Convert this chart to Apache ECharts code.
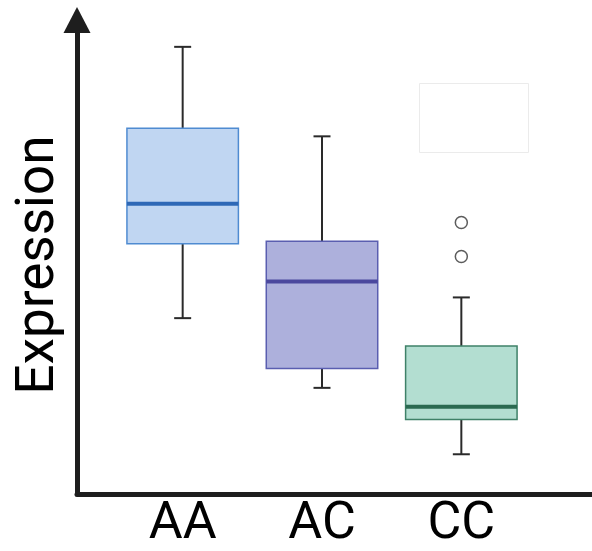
<!DOCTYPE html>
<html>
<head>
<meta charset="utf-8">
<script src="https://cdn.jsdelivr.net/npm/echarts@6/dist/echarts.min.js"></script>
<style>
  html, body { margin: 0; padding: 0; background: #fff; }
  #chart { width: 592px; height: 551px; }
</style>
</head>
<body>
<div id="chart"></div>
<script>
// Genotype groups and their expression summaries (arbitrary units, 0-100 scale)
const categories = ['AA', 'AC', 'CC'];
const whiskerLow = [36.7, 21.9, 7.8];
const q1 = [52.5, 26.0, 15.2];
const median = [61.0, 44.5, 17.9];
const q3 = [77.0, 53.0, 30.8];
const whiskerHigh = [94.3, 75.3, 41.1];
// Outlying observations: [group index, value]
const outliers = [[2, 57.0], [2, 49.8]];

const palette = [
  { fill: '#c0d6f2', border: '#4f8bd1', median: '#2e68b6' },
  { fill: '#adb0dc', border: '#5a5eb0', median: '#4b489e' },
  { fill: '#b3ded1', border: '#3f8168', median: '#2b6a51' }
];

const boxData = categories.map((c, i) => [i, whiskerLow[i], q1[i], median[i], q3[i], whiskerHigh[i]]);

const chart = echarts.init(document.getElementById('chart'));

function renderBox(params, api) {
  const idx = api.value(0);
  const col = palette[idx];
  const band = api.size([1, 0])[0];
  const half = band * 0.4;
  const cap = 8.5;
  const pLow = api.coord([idx, api.value(1)]);
  const pQ1 = api.coord([idx, api.value(2)]);
  const pMed = api.coord([idx, api.value(3)]);
  const pQ3 = api.coord([idx, api.value(4)]);
  const pHigh = api.coord([idx, api.value(5)]);
  const cx = pMed[0];
  const whiskerStyle = { stroke: '#2a2a2a', lineWidth: 2 };
  return {
    type: 'group',
    children: [
      { type: 'line', shape: { x1: cx, y1: pQ3[1], x2: cx, y2: pHigh[1] }, style: whiskerStyle },
      { type: 'line', shape: { x1: cx, y1: pQ1[1], x2: cx, y2: pLow[1] }, style: whiskerStyle },
      { type: 'line', shape: { x1: cx - cap, y1: pHigh[1], x2: cx + cap, y2: pHigh[1] }, style: whiskerStyle },
      { type: 'line', shape: { x1: cx - cap, y1: pLow[1], x2: cx + cap, y2: pLow[1] }, style: whiskerStyle },
      {
        type: 'rect',
        shape: { x: cx - half, y: pQ3[1], width: half * 2, height: pQ1[1] - pQ3[1] },
        style: { fill: col.fill, stroke: col.border, lineWidth: 1.5 }
      },
      {
        type: 'line',
        shape: { x1: cx - half, y1: pMed[1], x2: cx + half, y2: pMed[1] },
        style: { stroke: col.median, lineWidth: 4 }
      }
    ]
  };
}

const option = {
  backgroundColor: '#ffffff',
  animation: false,
  grid: [
    { left: 113, width: 418, top: 20, bottom: 57 },
    { left: 77, right: 0, top: 20, bottom: 57 }
  ],
  xAxis: [
    {
      type: 'category', gridIndex: 0, data: categories,
      axisLine: { show: false }, axisTick: { show: false },
      axisLabel: { fontFamily: 'Roboto', fontSize: 52, color: '#000', margin: 8 }
    },
    {
      type: 'value', gridIndex: 1, min: 0, max: 1,
      axisLine: { show: true, lineStyle: { color: '#1e1e1e', width: 5 } },
      axisTick: { show: false }, axisLabel: { show: false }, splitLine: { show: false }
    }
  ],
  yAxis: [
    {
      type: 'value', gridIndex: 0, min: 0, max: 100,
      axisLine: { show: false }, axisTick: { show: false },
      axisLabel: { show: false }, splitLine: { show: false }
    },
    {
      type: 'value', gridIndex: 1, min: 0, max: 100,
      name: 'Expression', nameLocation: 'middle', nameGap: 11, nameRotate: 90,
      nameTextStyle: { fontFamily: 'Roboto', fontSize: 53, color: '#000', padding: [0, 16, 0, 0] },
      axisLine: {
        show: true, symbol: ['none', 'triangle'], symbolSize: [27, 26],
        lineStyle: { color: '#1e1e1e', width: 5 }
      },
      axisTick: { show: false }, axisLabel: { show: false }, splitLine: { show: false }
    }
  ],
  graphic: [
    {
      type: 'rect', left: 419, top: 83,
      shape: { width: 109, height: 69 },
      style: { fill: '#ffffff', stroke: '#ebebeb', lineWidth: 1 }
    }
  ],
  series: [
    {
      type: 'custom', xAxisIndex: 0, yAxisIndex: 0,
      renderItem: renderBox,
      encode: { x: 0, y: [1, 2, 3, 4, 5] },
      data: boxData
    },
    {
      type: 'scatter', xAxisIndex: 0, yAxisIndex: 0,
      symbol: 'circle', symbolSize: 12,
      itemStyle: { color: '#ffffff', borderColor: '#333333', borderWidth: 1.5 },
      data: outliers
    }
  ]
};

chart.setOption(option);
</script>
</body>
</html>
